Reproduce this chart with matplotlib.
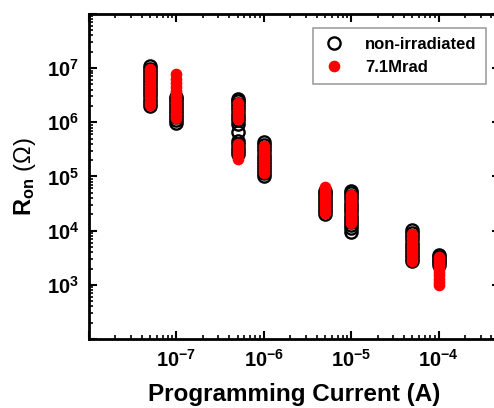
import math
import matplotlib
matplotlib.use('Agg')
import matplotlib.pyplot as plt
from matplotlib.ticker import LogLocator, FuncFormatter, NullFormatter

plt.rcParams['font.family'] = ['Liberation Sans', 'DejaVu Sans']
plt.rcParams['mathtext.fontset'] = 'custom'
plt.rcParams['mathtext.rm'] = 'Liberation Sans'
plt.rcParams['mathtext.it'] = 'Liberation Sans:italic'
plt.rcParams['mathtext.bf'] = 'Liberation Sans:bold'

# programming currents (A)
currents = [5e-8, 1e-7, 5e-7, 1e-6, 5e-6, 1e-5, 5e-5, 1e-4]

# on-state resistance (ohm), one list per programming current
ron_pristine = [
    [2.0e6, 2.3e6, 2.6e6, 3.0e6, 3.4e6, 3.9e6, 4.4e6, 5.0e6, 5.7e6, 6.5e6, 7.4e6, 8.4e6, 9.6e6, 1.1e7],
    [9.5e5, 1.08e6, 1.23e6, 1.4e6, 1.6e6, 1.8e6, 2.05e6, 2.35e6, 2.65e6, 2.9e6],
    [2.6e5, 3.0e5, 3.4e5, 3.9e5, 4.6e5, 6.6e5, 9.2e5, 1.1e6, 1.25e6,
     1.45e6, 1.65e6, 1.9e6, 2.2e6, 2.5e6, 2.7e6],
    [1.0e5, 1.15e5, 1.3e5, 1.5e5, 1.7e5, 1.95e5, 2.2e5, 2.5e5, 2.9e5, 3.3e5, 3.8e5, 4.3e5],
    [2.0e4, 2.3e4, 2.6e4, 3.0e4, 3.4e4, 3.9e4, 4.4e4, 5.0e4, 5.5e4],
    [9.5e3, 1.1e4, 1.25e4, 1.45e4, 1.65e4, 1.9e4, 2.2e4, 2.5e4, 2.9e4, 3.3e4, 3.8e4, 4.4e4, 5.0e4, 5.5e4],
    [2.7e3, 3.1e3, 3.5e3, 4.0e3, 4.6e3, 5.3e3, 6.0e3, 6.9e3, 7.9e3, 9.0e3, 1.05e4],
    [2.3e3, 2.6e3, 2.9e3, 3.2e3, 3.6e3],
]

ron_irradiated = [
    [2.1e6, 2.4e6, 2.8e6, 3.2e6, 3.6e6, 4.1e6, 4.7e6, 5.4e6, 6.2e6, 7.1e6, 8.2e6, 9.6e6],
    [1.2e6, 1.35e6, 1.5e6, 1.7e6, 1.9e6, 2.15e6, 2.4e6, 2.7e6, 3.0e6, 3.4e6, 3.8e6, 4.4e6, 5.2e6,
     6.2e6, 7.8e6],
    [2.1e5, 2.4e5, 2.7e5, 3.1e5, 3.5e5, 4.0e5, 1.15e6, 1.3e6, 1.5e6, 1.7e6, 1.95e6, 2.25e6],
    [1.15e5, 1.3e5, 1.5e5, 1.7e5, 1.95e5, 2.2e5, 2.5e5, 2.85e5, 3.2e5, 3.6e5],
    [2.1e4, 2.4e4, 2.7e4, 3.1e4, 3.5e4, 4.0e4, 4.6e4, 5.2e4, 5.8e4, 6.5e4],
    [1.4e4, 1.6e4, 1.8e4, 2.05e4, 2.35e4, 2.7e4, 3.1e4, 3.5e4, 4.0e4, 4.5e4],
    [2.7e3, 3.1e3, 3.5e3, 4.0e3, 4.6e3, 5.3e3, 6.1e3, 7.2e3, 8.5e3],
    [1.0e3, 1.15e3, 1.3e3, 1.5e3, 1.7e3, 1.95e3, 2.2e3, 2.5e3, 2.9e3, 3.3e3],
]

fig = plt.figure(figsize=(4.94, 4.08), dpi=100)
ax = fig.add_axes([0.180, 0.169, 0.832, 0.797])

for i, cur in enumerate(currents):
    ax.plot([cur] * len(ron_pristine[i]), ron_pristine[i], 'o', ms=8.8, mfc='none',
            mec='black', mew=1.7, zorder=2,
            label='non-irradiated' if i == 0 else None)
for i, cur in enumerate(currents):
    ax.plot([cur] * len(ron_irradiated[i]), ron_irradiated[i], 'o', ms=8.4, mfc='red',
            mec='none', zorder=3,
            label='7.1Mrad' if i == 0 else None)

ax.set_xscale('log')
ax.set_yscale('log')
ax.set_xlim(1e-8, 5e-4)
ax.set_ylim(1e2, 1e8)

ax.xaxis.set_major_locator(LogLocator(base=10, numticks=20))
ax.yaxis.set_major_locator(LogLocator(base=10, numticks=20))
ax.xaxis.set_minor_locator(LogLocator(base=10, subs=range(2, 10), numticks=20))
ax.yaxis.set_minor_locator(LogLocator(base=10, subs=range(2, 10), numticks=20))

shown_x = {-7, -6, -5, -4}
shown_y = {3, 4, 5, 6, 7}


def xfmt(v, pos):
    e = int(round(math.log10(v)))
    return r'$\mathbf{10^{%d}}$' % e if e in shown_x else ''


def yfmt(v, pos):
    e = int(round(math.log10(v)))
    return r'$\mathbf{10^{%d}}$' % e if e in shown_y else ''


ax.xaxis.set_major_formatter(FuncFormatter(xfmt))
ax.yaxis.set_major_formatter(FuncFormatter(yfmt))
ax.xaxis.set_minor_formatter(NullFormatter())
ax.yaxis.set_minor_formatter(NullFormatter())

ax.tick_params(which='both', direction='in', top=True, right=True, colors='black')
ax.tick_params(which='major', length=6, width=1.5, labelsize=14.5, pad=7)
ax.tick_params(which='minor', length=3, width=1.2)
for s in ax.spines.values():
    s.set_linewidth(2)

ax.set_xlabel('Programming Current (A)', fontsize=17.5, fontweight='bold', labelpad=9)
ax.set_ylabel(r'$\mathbf{R_{on}}$ ($\Omega$)', fontsize=17, labelpad=6)

leg = ax.legend(loc='upper left', bbox_to_anchor=(0.544, 0.957), borderaxespad=0,
                prop={'weight': 'bold', 'size': 12}, frameon=True, fancybox=False,
                handletextpad=1.1, borderpad=0.55, labelspacing=0.45,
                handlelength=1.5, markerscale=1.0)
leg.get_frame().set_edgecolor('#888888')
leg.get_frame().set_linewidth(1.2)

fig.savefig('out.png', dpi=100)
